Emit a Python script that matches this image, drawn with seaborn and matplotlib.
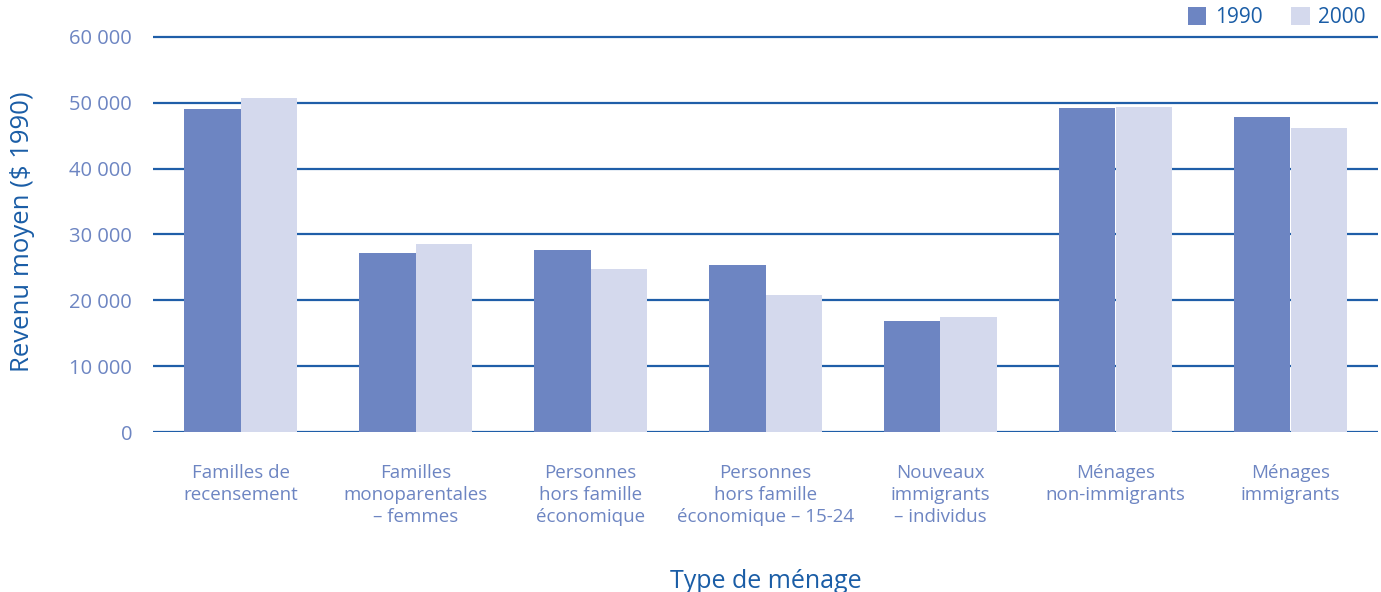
import matplotlib
matplotlib.use("Agg")
import matplotlib.pyplot as plt
import seaborn as sns
import pandas as pd
from matplotlib.ticker import FuncFormatter, MultipleLocator
from matplotlib.patches import Patch

categories = [
    "Familles de\nrecensement",
    "Familles\nmonoparentales\n– femmes",
    "Personnes\nhors famille\néconomique",
    "Personnes\nhors famille\néconomique – 15-24",
    "Nouveaux\nimmigrants\n– individus",
    "Ménages\nnon-immigrants",
    "Ménages\nimmigrants",
]
values_1990 = [49100, 27200, 27650, 25400, 16900, 49250, 47900]
values_2000 = [50750, 28550, 24750, 20800, 17500, 49400, 46200]
series = ["1990", "2000"]

df = pd.DataFrame({
    "cat": categories * 2,
    "year": [series[0]] * len(categories) + [series[1]] * len(categories),
    "val": values_1990 + values_2000,
})

c1990 = "#6d85c2"
c2000 = "#d4d9ed"
grid_c = "#1f5ea8"
tick_c = "#6d85c2"
label_c = "#1a5da6"

sns.set_theme(style="white")
plt.rcParams["font.family"] = ["Open Sans", "DejaVu Sans"]

fig = plt.figure(figsize=(13.81, 5.92), dpi=100)
ax = fig.add_axes([153 / 1381, 1 - 432 / 592, (1378 - 153) / 1381, (432 - 30.4) / 592])

sns.barplot(data=df, x="cat", y="val", hue="year", palette=[c1990, c2000],
            width=0.65, gap=0, saturation=1, ax=ax, legend=False, zorder=3,
            linewidth=0, edgecolor="none")

ax.set_xlim(-0.5, len(categories) - 0.5)
ax.set_ylim(0, 61000)
ax.yaxis.set_major_locator(MultipleLocator(10000))
ax.yaxis.set_major_formatter(FuncFormatter(lambda v, p: f"{int(v):,}".replace(",", " ")))
for y in range(0, 60001, 10000):
    ax.axhline(y, color=grid_c, lw=1.6, zorder=2)

for s in ax.spines.values():
    s.set_visible(False)
ax.grid(False)
ax.tick_params(axis="both", length=0)
ax.tick_params(axis="y", pad=15, labelsize=14.5, labelcolor=tick_c)
ax.tick_params(axis="x", pad=23, labelsize=13.5, labelcolor=tick_c)
for t in ax.get_xticklabels():
    t.set_multialignment("center")
    t.set_linespacing(1.3)

ax.set_xlabel("Type de ménage", fontsize=18, color=label_c, labelpad=31)
ax.set_ylabel("Revenu moyen ($ 1990)", fontsize=18.5, color=label_c, labelpad=25)

handles = [Patch(facecolor=c1990, edgecolor="none"), Patch(facecolor=c2000, edgecolor="none")]
leg = ax.legend(handles, series, loc="lower right", bbox_to_anchor=(0.997, 0.985),
                ncol=2, frameon=False, fontsize=15, handlelength=0.9, handleheight=0.9,
                handletextpad=0.4, columnspacing=1.4, borderaxespad=0.0)
for t in leg.get_texts():
    t.set_color(label_c)

fig.savefig("out.png", dpi=100, facecolor="white")
